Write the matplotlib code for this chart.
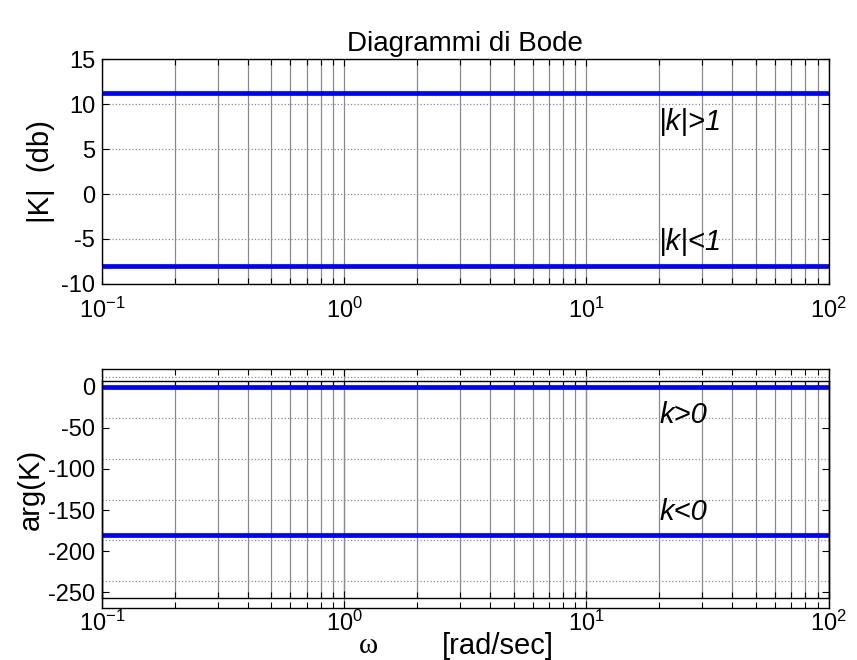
import numpy as np
import matplotlib.pyplot as plt
from matplotlib.ticker import LogLocator, NullFormatter

plt.rcParams['font.family'] = ['Liberation Sans', 'DejaVu Sans']
plt.rcParams['mathtext.fontset'] = 'custom'
plt.rcParams['mathtext.rm'] = 'Liberation Sans'
plt.rcParams['mathtext.it'] = 'Liberation Sans:italic'
plt.rcParams['axes.unicode_minus'] = False
plt.rcParams['axes.linewidth'] = 1.0

# frequency span (rad/sec)
omega = [0.1, 100]

# gain of a constant K, in dB
mag_labels = ['|k|>1', '|k|<1']
mag_values = [11.2, -8.0]
mag_text_y = [8.0, -5.3]
mag_ticks = [-10, -5, 0, 5, 10, 15]

# phase of a constant K, in degrees
phase_labels = ['k>0', 'k<0']
phase_values = [0, -180]
phase_text_y = [-34, -152]
phase_ticks = [-250, -200, -150, -100, -50, 0]

text_x = 20
blue = '#0000ff'
grid_col = '#8a8a8a'


def log_axis(ax):
    ax.set_xscale('log')
    ax.set_xlim(omega[0], omega[1])
    ax.xaxis.set_major_locator(LogLocator(base=10))
    ax.xaxis.set_minor_locator(LogLocator(base=10, subs=np.arange(2, 10)))
    ax.xaxis.set_minor_formatter(NullFormatter())
    ax.tick_params(which='both', direction='in', top=True, right=True,
                   labelsize=17, width=0.8)
    ax.tick_params(which='major', length=5, pad=5)
    ax.tick_params(which='minor', length=4)


fig = plt.figure(figsize=(8.57, 6.6), dpi=100)

# magnitude
ax1 = fig.add_axes([0.119, 0.5697, 0.848, 0.3409])
log_axis(ax1)
ax1.set_ylim(-10, 15)
ax1.set_yticks(mag_ticks)
ax1.tick_params(axis='x', which='major', pad=10)
ax1.grid(True, axis='x', which='both', color=grid_col, lw=0.9, ls='-')
ax1.grid(True, axis='y', which='major', color=grid_col, lw=0.9, ls=':')
for v in mag_values:
    ax1.plot(omega, [v, v], color=blue, lw=3.4)
for lab, y in zip(mag_labels, mag_text_y):
    ax1.text(text_x, y, lab, fontsize=21, style='italic', va='center', ha='left')
ax1.set_ylabel('|K|  (db)', fontsize=21, labelpad=4)
ax1.set_title('Diagrammi di Bode', fontsize=20, pad=6)

# phase: back frame with dotted grid and frequency labels
ax2b = fig.add_axes([0.119, 0.0788, 0.848, 0.3621])
log_axis(ax2b)
ax2b.set_ylim(-283, 10)
ax2b.set_yticks(phase_ticks)
ax2b.tick_params(axis='y', which='both', length=0, labelleft=False)
ax2b.tick_params(axis='x', which='major', pad=2)
ax2b.grid(True, axis='x', which='major', color=grid_col, lw=0.9, ls='-')
ax2b.grid(True, axis='y', which='major', color=grid_col, lw=0.9, ls=':')

# phase: front frame with the curves
ax2 = fig.add_axes([0.119, 0.0939, 0.848, 0.3288])
ax2.patch.set_alpha(0)
log_axis(ax2)
ax2.set_ylim(-257, 7)
ax2.set_yticks(phase_ticks)
ax2.tick_params(axis='x', which='both', labelbottom=False)
ax2.grid(True, axis='x', which='both', color=grid_col, lw=0.9, ls='-')
for v in phase_values:
    ax2.plot(omega, [v, v], color=blue, lw=3.4)
for lab, y in zip(phase_labels, phase_text_y):
    ax2.text(text_x, y, lab, fontsize=21, style='italic', va='center', ha='left')
ax2.set_ylabel('arg(K)', fontsize=21, labelpad=2)

fig.text(368 / 857, 1 - 646 / 660, '\u03c9', fontsize=21, family='Liberation Serif',
         ha='center', va='center')
fig.text(498 / 857, 1 - 646 / 660, '[rad/sec]', fontsize=21, ha='center', va='center')

fig.savefig('out.png', dpi=100)
